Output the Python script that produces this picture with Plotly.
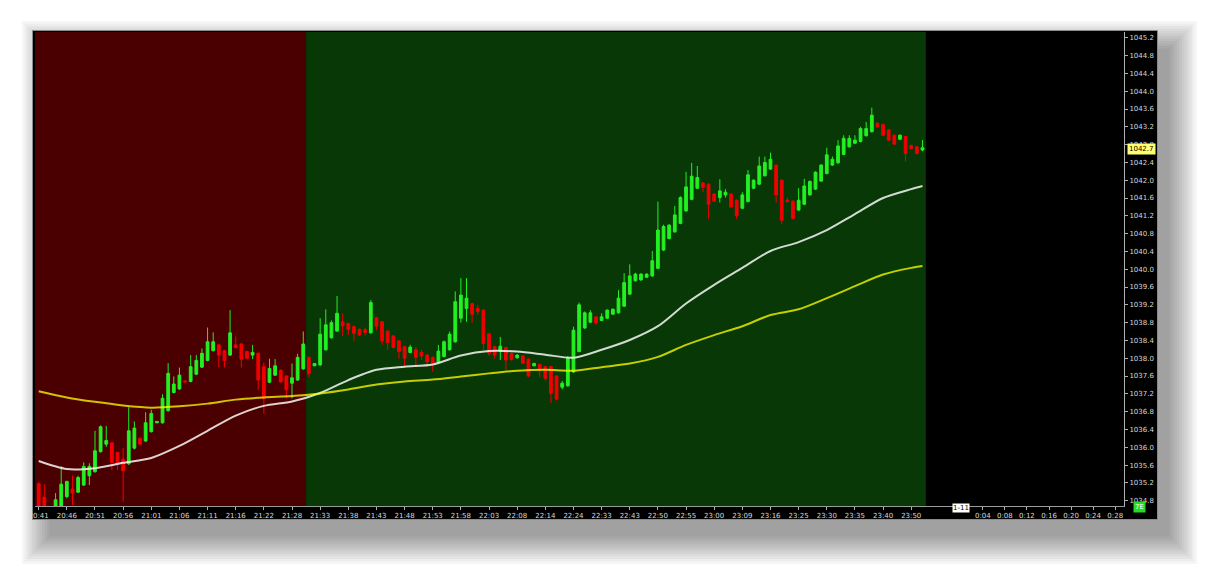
import plotly.graph_objects as go

# ---------------- data ----------------
open_ = [1035.18, 1034.88, 1034.55, 1034.60, 1034.65, 1034.89, 1035.06, 1034.99, 1035.15, 1035.36,
         1035.45, 1035.90, 1036.07, 1036.10, 1035.88, 1035.73, 1035.63, 1035.98, 1036.20, 1036.14,
         1036.35, 1036.55, 1036.55, 1036.82, 1037.23, 1037.31, 1037.49, 1037.48, 1037.64, 1037.80,
         1037.95, 1038.17, 1038.30, 1038.17, 1038.07, 1038.30, 1038.32, 1038.15, 1038.07, 1038.11,
         1037.81, 1037.46, 1037.62, 1037.73, 1037.60, 1037.44, 1037.51, 1037.76, 1038.02, 1037.83,
         1037.85, 1038.19, 1038.46, 1038.61, 1038.82, 1038.78, 1038.71, 1038.65, 1038.64, 1038.57,
         1038.91, 1038.82, 1038.61, 1038.50, 1038.39, 1038.26, 1038.13, 1038.19, 1038.13, 1038.07,
         1038.02, 1037.91, 1038.04, 1038.19, 1038.37, 1038.90, 1039.12, 1039.23, 1039.12, 1039.08,
         1038.55, 1038.26, 1038.16, 1038.24, 1038.11, 1038.01, 1038.05, 1037.98, 1037.83, 1037.86,
         1037.81, 1037.81, 1037.60, 1037.35, 1037.38, 1037.69, 1038.15, 1038.68, 1038.81, 1038.93,
         1038.85, 1038.90, 1038.99, 1039.02, 1039.17, 1039.44, 1039.74, 1039.76, 1039.82, 1039.85,
         1040.02, 1040.43, 1040.69, 1040.84, 1041.03, 1041.31, 1041.57, 1041.82, 1041.94, 1041.91,
         1041.69, 1041.61, 1041.67, 1041.69, 1041.55, 1041.37, 1041.52, 1041.82, 1041.91, 1042.10,
         1042.25, 1042.34, 1042.00, 1041.55, 1041.53, 1041.33, 1041.46, 1041.67, 1041.80, 1041.98,
         1042.15, 1042.34, 1042.39, 1042.58, 1042.75, 1042.83, 1042.87, 1043.00, 1043.09, 1043.28,
         1043.25, 1043.13, 1043.01, 1042.92, 1042.98, 1042.78, 1042.75, 1042.68]
high = [1035.22, 1035.17, 1034.62, 1034.97, 1035.57, 1035.25, 1035.36, 1035.36, 1035.66, 1035.64,
        1036.37, 1036.49, 1036.48, 1036.12, 1035.90, 1035.98, 1036.90, 1036.58, 1036.22, 1036.79,
        1036.84, 1036.59, 1037.19, 1037.89, 1037.59, 1037.79, 1037.50, 1038.07, 1038.07, 1038.22,
        1038.69, 1038.58, 1038.32, 1038.19, 1039.08, 1038.49, 1038.34, 1038.17, 1038.30, 1038.13,
        1037.90, 1037.99, 1037.98, 1037.75, 1037.62, 1037.88, 1038.10, 1038.60, 1038.04, 1037.89,
        1038.90, 1039.10, 1038.85, 1039.40, 1039.01, 1038.80, 1038.73, 1038.67, 1038.69, 1039.31,
        1038.93, 1038.84, 1038.63, 1038.52, 1038.41, 1038.28, 1038.30, 1038.25, 1038.19, 1038.10,
        1038.04, 1038.30, 1038.40, 1038.60, 1039.50, 1039.80, 1039.80, 1039.25, 1039.20, 1039.10,
        1038.57, 1038.28, 1038.48, 1038.26, 1038.13, 1038.09, 1038.07, 1038.00, 1037.90, 1037.88,
        1037.83, 1037.83, 1037.62, 1037.49, 1038.05, 1038.71, 1039.25, 1039.05, 1039.08, 1038.95,
        1039.01, 1039.10, 1039.12, 1039.53, 1039.91, 1040.11, 1039.92, 1039.91, 1039.91, 1040.41,
        1041.52, 1041.00, 1041.02, 1041.42, 1041.64, 1042.19, 1042.39, 1042.32, 1041.96, 1041.93,
        1041.71, 1042.02, 1041.80, 1041.71, 1041.57, 1041.73, 1042.23, 1042.02, 1042.53, 1042.53,
        1042.62, 1042.36, 1042.02, 1041.61, 1041.55, 1041.82, 1042.03, 1042.00, 1042.20, 1042.36,
        1042.73, 1042.53, 1042.90, 1043.01, 1043.01, 1043.01, 1043.20, 1043.31, 1043.63, 1043.30,
        1043.27, 1043.15, 1043.03, 1043.03, 1043.00, 1042.80, 1042.77, 1042.90]
low = [1034.40, 1034.50, 1034.35, 1034.50, 1034.55, 1034.85, 1034.70, 1034.97, 1035.13, 1035.15,
       1035.43, 1035.88, 1036.01, 1035.49, 1035.49, 1034.78, 1035.60, 1035.95, 1036.05, 1036.12,
       1036.33, 1036.54, 1036.53, 1036.80, 1037.21, 1037.29, 1037.46, 1037.46, 1037.62, 1037.78,
       1037.93, 1038.15, 1037.80, 1037.79, 1038.05, 1038.22, 1037.79, 1037.98, 1037.98, 1037.29,
       1036.76, 1037.44, 1037.60, 1037.45, 1037.10, 1037.10, 1037.49, 1037.74, 1037.58, 1037.82,
       1037.83, 1038.17, 1038.44, 1038.59, 1038.50, 1038.52, 1038.39, 1038.50, 1038.51, 1038.55,
       1038.63, 1038.30, 1038.19, 1038.22, 1037.99, 1037.81, 1038.11, 1037.80, 1037.96, 1037.81,
       1037.70, 1037.89, 1038.02, 1038.17, 1038.35, 1038.80, 1038.82, 1038.80, 1038.97, 1038.19,
       1038.05, 1037.99, 1037.96, 1037.74, 1037.95, 1037.99, 1037.87, 1037.58, 1037.82, 1037.58,
       1037.50, 1036.99, 1037.05, 1037.30, 1037.36, 1037.67, 1038.13, 1038.66, 1038.79, 1038.75,
       1038.83, 1038.88, 1038.97, 1039.00, 1039.15, 1039.42, 1039.72, 1039.74, 1039.80, 1039.83,
       1040.00, 1040.41, 1040.67, 1040.82, 1041.01, 1041.29, 1041.55, 1041.80, 1041.73, 1041.13,
       1041.51, 1041.50, 1041.61, 1041.38, 1041.13, 1041.35, 1041.50, 1041.80, 1041.89, 1042.08,
       1042.23, 1041.50, 1041.01, 1041.50, 1041.12, 1041.31, 1041.44, 1041.65, 1041.78, 1041.96,
       1042.13, 1042.32, 1042.37, 1042.56, 1042.73, 1042.81, 1042.85, 1042.98, 1043.07, 1043.18,
       1042.99, 1042.88, 1042.79, 1042.90, 1042.42, 1042.69, 1042.58, 1042.65]
close = [1034.50, 1034.60, 1034.45, 1034.82, 1035.17, 1035.23, 1034.97, 1035.32, 1035.57, 1035.57,
         1035.92, 1036.46, 1036.15, 1035.66, 1035.63, 1035.47, 1036.37, 1036.43, 1036.07, 1036.55,
         1036.76, 1036.58, 1037.10, 1037.66, 1037.42, 1037.62, 1037.47, 1037.81, 1037.95, 1038.11,
         1038.37, 1038.37, 1038.07, 1037.95, 1038.57, 1038.24, 1037.98, 1038.00, 1038.13, 1037.51,
         1037.10, 1037.77, 1037.83, 1037.47, 1037.29, 1037.56, 1038.02, 1038.32, 1037.65, 1037.88,
         1038.54, 1038.75, 1038.80, 1039.01, 1038.73, 1038.65, 1038.56, 1038.52, 1038.58, 1039.25,
         1038.72, 1038.39, 1038.35, 1038.24, 1038.15, 1038.00, 1038.25, 1038.02, 1038.05, 1037.92,
         1037.89, 1038.16, 1038.37, 1038.54, 1039.27, 1039.42, 1039.35, 1038.99, 1039.05, 1038.33,
         1038.11, 1038.07, 1038.27, 1037.96, 1037.97, 1038.07, 1037.89, 1037.60, 1037.88, 1037.73,
         1037.55, 1037.21, 1037.08, 1037.44, 1038.00, 1038.63, 1039.20, 1039.02, 1039.02, 1038.79,
         1038.93, 1039.08, 1039.10, 1039.35, 1039.70, 1039.85, 1039.89, 1039.89, 1039.89, 1040.19,
         1040.88, 1040.96, 1040.99, 1041.22, 1041.61, 1041.85, 1042.09, 1042.06, 1041.84, 1041.46,
         1041.53, 1041.76, 1041.73, 1041.40, 1041.20, 1041.67, 1042.12, 1042.00, 1042.32, 1042.40,
         1042.47, 1041.67, 1041.10, 1041.52, 1041.14, 1041.55, 1041.87, 1041.97, 1042.18, 1042.34,
         1042.57, 1042.47, 1042.77, 1042.94, 1042.94, 1042.90, 1043.16, 1043.16, 1043.46, 1043.20,
         1043.01, 1042.90, 1042.81, 1043.01, 1042.60, 1042.71, 1042.60, 1042.73]

# moving averages read at every 5th bar (and the last bar)
ma_bars = [0, 5, 10, 15, 20, 25, 30, 35, 40, 45, 50, 55, 60, 65, 70, 75, 80, 85, 90, 95,
           100, 105, 110, 115, 120, 125, 130, 135, 140, 145, 150, 155, 157]
ma_fast = [1035.69, 1035.51, 1035.53, 1035.65, 1035.76, 1036.03, 1036.37, 1036.71, 1036.93, 1037.03,
           1037.22, 1037.51, 1037.74, 1037.81, 1037.86, 1038.06, 1038.16, 1038.15, 1038.08, 1038.01,
           1038.19, 1038.41, 1038.72, 1039.23, 1039.65, 1040.03, 1040.41, 1040.61, 1040.88, 1041.24,
           1041.60, 1041.80, 1041.87]
ma_slow = [1037.26, 1037.12, 1037.02, 1036.94, 1036.89, 1036.92, 1036.98, 1037.07, 1037.12, 1037.15,
           1037.21, 1037.30, 1037.41, 1037.48, 1037.52, 1037.59, 1037.66, 1037.72, 1037.74, 1037.72,
           1037.80, 1037.88, 1038.03, 1038.30, 1038.52, 1038.72, 1038.97, 1039.10, 1039.35, 1039.62,
           1039.88, 1040.03, 1040.07]

time_labels = ["20:41", "20:46", "20:51", "20:56", "21:01", "21:06", "21:11", "21:16", "21:22", "21:28",
               "21:33", "21:38", "21:43", "21:48", "21:53", "21:58", "22:03", "22:08", "22:14", "22:24",
               "22:33", "22:43", "22:50", "22:55", "23:00", "23:09", "23:16", "23:25", "23:30", "23:35",
               "23:40", "23:50"]
future_labels = ["1-11", "0:04", "0:08", "0:12", "0:16", "0:20", "0:24", "0:28"]
last_price_label = "1042.7"
last_price = 1042.7

# ---------------- layout geometry (page pixels; the page body has an 8px margin) ----------------
PAGE_W, PAGE_H, BODY = 1222, 586, 8
L, R, T, B = 35, 1124, 32, 506
PW, PH = R - L, B - T


def px(x):
    return (x - L) / PW


def py(y):
    return (B - y) / PH


n_bars = len(open_)
bars = list(range(n_bars))
x_min, x_max = -0.657, 192.8
session_split = 47.5
session_end = n_bars - 0.4

tick_vals = [i * 5 for i in range(len(time_labels))]
tick_text = list(time_labels)
fut_pos = [163.8 + 3.92 * k for k in range(len(future_labels))]
tick_vals += fut_pos
tick_text += [""] + future_labels[1:]

fig = go.Figure()

fig.add_trace(go.Candlestick(
    x=bars, open=open_, high=high, low=low, close=close,
    increasing=dict(line=dict(color="#22f022", width=1), fillcolor="#22f022"),
    decreasing=dict(line=dict(color="#f00000", width=1), fillcolor="#f00000"),
    whiskerwidth=0, hoverinfo="skip", showlegend=False,
))
fig.add_trace(go.Scatter(
    x=ma_bars, y=ma_fast, mode="lines",
    line=dict(color="rgba(255,255,255,0.82)", width=2, shape="spline", smoothing=0.8),
    hoverinfo="skip", showlegend=False,
))
fig.add_trace(go.Scatter(
    x=ma_bars, y=ma_slow, mode="lines",
    line=dict(color="rgba(255,255,0,0.76)", width=2, shape="spline", smoothing=0.8),
    hoverinfo="skip", showlegend=False,
))

shapes = []
# drop shadow (offset down-right, soft; mostly visible on the right and bottom)
for k in range(1, 13):
    e = k * 2.5
    shapes.append(dict(type="rect", xref="paper", yref="paper", layer="below",
                       x0=px(32 + 20 - e), x1=px(1157 + 10 + e), y0=py(520 + 14 + e), y1=py(31 + 20 - e),
                       fillcolor="rgba(0,0,0,0.036)", line=dict(width=0)))
# chart frame
shapes.append(dict(type="rect", xref="paper", yref="paper", layer="below",
                   x0=px(32.5), x1=px(1157.5), y0=py(519.5), y1=py(30.5),
                   fillcolor="#000000", line=dict(color="#8a8a8a", width=1)))
# session backgrounds
shapes.append(dict(type="rect", xref="x", yref="paper", layer="below",
                   x0=x_min, x1=session_split, y0=0, y1=1,
                   fillcolor="#4a0000", line=dict(width=0)))
shapes.append(dict(type="rect", xref="x", yref="paper", layer="below",
                   x0=session_split, x1=session_end, y0=0, y1=1,
                   fillcolor="#073805", line=dict(width=0)))

annotations = [
    dict(x=fut_pos[0], y=py(513), xref="x", yref="paper", text=future_labels[0],
         showarrow=False, bgcolor="#ffffff", font=dict(family="DejaVu Sans", size=7, color="#000000"),
         borderpad=0),
    dict(x=px(1127), y=last_price, xref="paper", yref="y", xanchor="left", text=last_price_label,
         showarrow=False, bgcolor="#ffff70", font=dict(family="DejaVu Sans", size=7, color="#000000"),
         borderpad=1),
    dict(x=px(1146), y=py(513), xref="paper", yref="paper", text="7E",
         showarrow=False, bgcolor="#22dd22", font=dict(family="DejaVu Sans", size=7, color="#ffffff"),
         borderpad=1),
]

axis_font = dict(family="DejaVu Sans", size=7, color="#d8d8d8")
fig.update_layout(
    width=PAGE_W - BODY, height=PAGE_H - BODY,
    margin=dict(l=L - BODY, r=PAGE_W - R, t=T - BODY, b=PAGE_H - B, pad=0),
    paper_bgcolor="#ffffff", plot_bgcolor="#000000",
    shapes=shapes, annotations=annotations,
    showlegend=False, hovermode=False,
    xaxis=dict(range=[x_min, x_max], rangeslider=dict(visible=False), showgrid=False, zeroline=False,
               tickmode="array", tickvals=tick_vals, ticktext=tick_text, tickangle=0,
               ticks="outside", ticklen=3, tickcolor="#b0b0b0", tickfont=axis_font,
               showline=True, linecolor="#9a9a9a", linewidth=1),
    yaxis=dict(range=[1034.68, 1045.33], side="right", showgrid=False, zeroline=False,
               tick0=1034.8, dtick=0.4, tickformat=".1f",
               ticks="outside", ticklen=3, tickcolor="#b0b0b0", tickfont=axis_font,
               showline=True, linecolor="#b0b0b0", linewidth=1),
)

fig.write_html("out.html")
